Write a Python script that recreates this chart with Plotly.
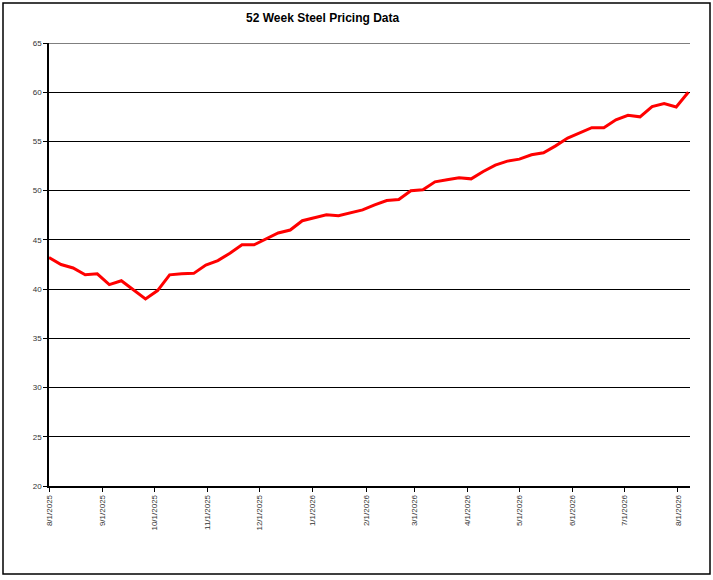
import plotly.graph_objects as go

# weekly observation dates (Fridays)
dates = [
    "2025-08-01", "2025-08-08", "2025-08-15", "2025-08-22", "2025-08-29",
    "2025-09-05", "2025-09-12", "2025-09-19", "2025-09-26",
    "2025-10-03", "2025-10-10", "2025-10-17", "2025-10-24", "2025-10-31",
    "2025-11-07", "2025-11-14", "2025-11-21", "2025-11-28",
    "2025-12-05", "2025-12-12", "2025-12-19", "2025-12-26",
    "2026-01-02", "2026-01-09", "2026-01-16", "2026-01-23", "2026-01-30",
    "2026-02-06", "2026-02-13", "2026-02-20", "2026-02-27",
    "2026-03-06", "2026-03-13", "2026-03-20", "2026-03-27",
    "2026-04-03", "2026-04-10", "2026-04-17", "2026-04-24",
    "2026-05-01", "2026-05-08", "2026-05-15", "2026-05-22", "2026-05-29",
    "2026-06-05", "2026-06-12", "2026-06-19", "2026-06-26",
    "2026-07-03", "2026-07-10", "2026-07-17", "2026-07-24", "2026-07-31",
    "2026-08-07",
]

prices = [
    43.2, 42.5, 42.15, 41.45, 41.55, 40.45, 40.85, 39.9, 39.0, 39.85,
    41.45, 41.55, 41.6, 42.45, 42.9, 43.65, 44.5, 44.5, 45.1, 45.7,
    46.0, 46.95, 47.25, 47.55, 47.45, 47.75, 48.05, 48.55, 49.0, 49.1,
    50.0, 50.1, 50.9, 51.1, 51.3, 51.2, 51.95, 52.6, 53.0, 53.2,
    53.65, 53.85, 54.55, 55.35, 55.85, 56.4, 56.4, 57.2, 57.65, 57.5,
    58.55, 58.85, 58.5, 60.0,
]

month_ticks = [
    "2025-08-01", "2025-09-01", "2025-10-01", "2025-11-01", "2025-12-01",
    "2026-01-01", "2026-02-01", "2026-03-01", "2026-04-01", "2026-05-01",
    "2026-06-01", "2026-07-01", "2026-08-01",
]
month_labels = [
    "8/1/2025", "9/1/2025", "10/1/2025", "11/1/2025", "12/1/2025",
    "1/1/2026", "2/1/2026", "3/1/2026", "4/1/2026", "5/1/2026",
    "6/1/2026", "7/1/2026", "8/1/2026",
]

fig = go.Figure()
fig.add_trace(go.Scatter(
    x=dates,
    y=prices,
    mode="lines",
    line=dict(color="#ff0000", width=3),
    showlegend=False,
))

# --- layout ---
W, H = 713, 580
L, R, T, B = 49, 23, 43, 94
pw, ph = W - L - R, H - T - B

fig.update_layout(
    width=W, height=H,
    margin=dict(l=L, r=R, t=T, b=B, pad=0),
    paper_bgcolor="white",
    plot_bgcolor="white",
    font=dict(family="Arial, Liberation Sans, sans-serif", color="#333", size=8),
    annotations=[dict(
        text="<b>52 Week Steel Pricing Data</b>",
        xref="paper", yref="paper",
        x=(323 - L) / pw, y=(H - B - 18) / ph,
        xanchor="center", yanchor="middle",
        showarrow=False,
        font=dict(size=12, color="black"),
    )],
    shapes=[
        # outer frame
        dict(
            type="rect", xref="paper", yref="paper",
            x0=(3 - L) / pw, x1=(710 - L) / pw,
            y0=(H - B - 574) / ph, y1=(H - B - 3) / ph,
            line=dict(color="black", width=1.5),
            layer="below",
        ),
        # top gridline at 65
        dict(
            type="line", xref="paper", yref="y",
            x0=0, x1=1, y0=65, y1=65,
            line=dict(color="black", width=1),
            layer="below",
        ),
    ],
)

fig.update_xaxes(
    type="date",
    range=["2025-08-01", "2026-08-08"],
    tickvals=month_ticks,
    ticktext=month_labels,
    tickangle=-90,
    ticks="outside", ticklen=4, tickcolor="black",
    showline=True, linecolor="black", linewidth=1.5,
    showgrid=False, zeroline=False,
)
fig.update_yaxes(
    range=[20, 65],
    dtick=5,
    ticks="outside", ticklen=4, tickcolor="black",
    showline=True, linecolor="black", linewidth=1.5,
    showgrid=True, gridcolor="black", gridwidth=1,
    zeroline=False,
)

fig.write_html(
    "out.html",
    config={"displayModeBar": False},
    post_script="document.body.style.margin='0';",
)
